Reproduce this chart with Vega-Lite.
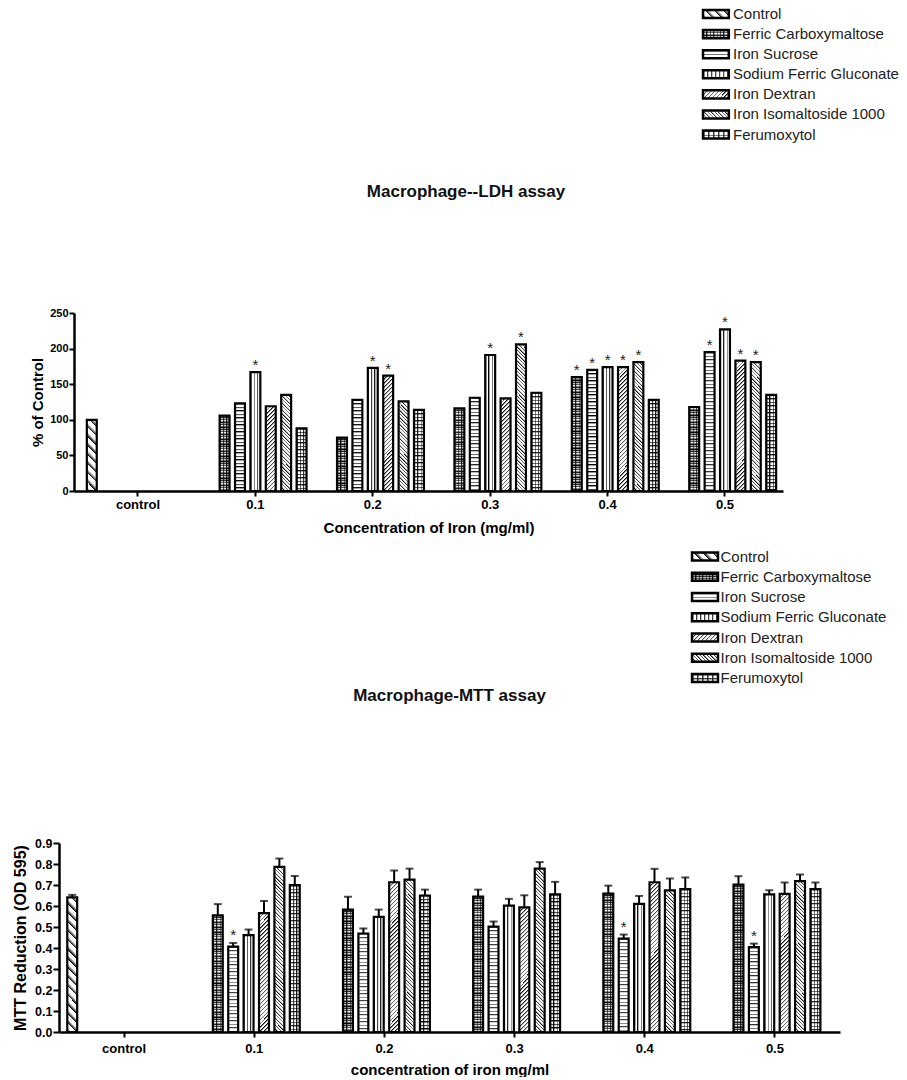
{
"$schema": "https://vega.github.io/schema/vega-lite/v6.json",
"padding": {"left": 12, "top": 4, "right": 0, "bottom": 0},
"background": "#ffffff",
"config": {"view": {"stroke": null}, "font": "Liberation Sans"},
"params": [{"name": "S", "value": [
{"offset":0,"color":"#000"},{"offset":0.01,"color":"transparent"},{"offset":0.02,"color":"transparent"},
{"offset":0.02,"color":"#000"},{"offset":0.03,"color":"transparent"},{"offset":0.04,"color":"transparent"},
{"offset":0.04,"color":"#000"},{"offset":0.05,"color":"transparent"},{"offset":0.06,"color":"transparent"},
{"offset":0.06,"color":"#000"},{"offset":0.07,"color":"transparent"},{"offset":0.08,"color":"transparent"},
{"offset":0.08,"color":"#000"},{"offset":0.09,"color":"transparent"},{"offset":0.1,"color":"transparent"},
{"offset":0.1,"color":"#000"},{"offset":0.11,"color":"transparent"},{"offset":0.12,"color":"transparent"},
{"offset":0.12,"color":"#000"},{"offset":0.13,"color":"transparent"},{"offset":0.14,"color":"transparent"},
{"offset":0.14,"color":"#000"},{"offset":0.15,"color":"transparent"},{"offset":0.16,"color":"transparent"},
{"offset":0.16,"color":"#000"},{"offset":0.17,"color":"transparent"},{"offset":0.18,"color":"transparent"},
{"offset":0.18,"color":"#000"},{"offset":0.19,"color":"transparent"},{"offset":0.2,"color":"transparent"},
{"offset":0.2,"color":"#000"},{"offset":0.21,"color":"transparent"},{"offset":0.22,"color":"transparent"},
{"offset":0.22,"color":"#000"},{"offset":0.23,"color":"transparent"},{"offset":0.24,"color":"transparent"},
{"offset":0.24,"color":"#000"},{"offset":0.25,"color":"transparent"},{"offset":0.26,"color":"transparent"},
{"offset":0.26,"color":"#000"},{"offset":0.27,"color":"transparent"},{"offset":0.28,"color":"transparent"},
{"offset":0.28,"color":"#000"},{"offset":0.29,"color":"transparent"},{"offset":0.3,"color":"transparent"},
{"offset":0.3,"color":"#000"},{"offset":0.31,"color":"transparent"},{"offset":0.32,"color":"transparent"},
{"offset":0.32,"color":"#000"},{"offset":0.33,"color":"transparent"},{"offset":0.34,"color":"transparent"},
{"offset":0.34,"color":"#000"},{"offset":0.35,"color":"transparent"},{"offset":0.36,"color":"transparent"},
{"offset":0.36,"color":"#000"},{"offset":0.37,"color":"transparent"},{"offset":0.38,"color":"transparent"},
{"offset":0.38,"color":"#000"},{"offset":0.39,"color":"transparent"},{"offset":0.4,"color":"transparent"},
{"offset":0.4,"color":"#000"},{"offset":0.41,"color":"transparent"},{"offset":0.42,"color":"transparent"},
{"offset":0.42,"color":"#000"},{"offset":0.43,"color":"transparent"},{"offset":0.44,"color":"transparent"},
{"offset":0.44,"color":"#000"},{"offset":0.45,"color":"transparent"},{"offset":0.46,"color":"transparent"},
{"offset":0.46,"color":"#000"},{"offset":0.47,"color":"transparent"},{"offset":0.48,"color":"transparent"},
{"offset":0.48,"color":"#000"},{"offset":0.49,"color":"transparent"},{"offset":0.5,"color":"transparent"},
{"offset":0.5,"color":"#000"},{"offset":0.51,"color":"transparent"},{"offset":0.52,"color":"transparent"},
{"offset":0.52,"color":"#000"},{"offset":0.53,"color":"transparent"},{"offset":0.54,"color":"transparent"},
{"offset":0.54,"color":"#000"},{"offset":0.55,"color":"transparent"},{"offset":0.56,"color":"transparent"},
{"offset":0.56,"color":"#000"},{"offset":0.57,"color":"transparent"},{"offset":0.58,"color":"transparent"},
{"offset":0.58,"color":"#000"},{"offset":0.59,"color":"transparent"},{"offset":0.6,"color":"transparent"},
{"offset":0.6,"color":"#000"},{"offset":0.61,"color":"transparent"},{"offset":0.62,"color":"transparent"},
{"offset":0.62,"color":"#000"},{"offset":0.63,"color":"transparent"},{"offset":0.64,"color":"transparent"},
{"offset":0.64,"color":"#000"},{"offset":0.65,"color":"transparent"},{"offset":0.66,"color":"transparent"},
{"offset":0.66,"color":"#000"},{"offset":0.67,"color":"transparent"},{"offset":0.68,"color":"transparent"},
{"offset":0.68,"color":"#000"},{"offset":0.69,"color":"transparent"},{"offset":0.7,"color":"transparent"},
{"offset":0.7,"color":"#000"},{"offset":0.71,"color":"transparent"},{"offset":0.72,"color":"transparent"},
{"offset":0.72,"color":"#000"},{"offset":0.73,"color":"transparent"},{"offset":0.74,"color":"transparent"},
{"offset":0.74,"color":"#000"},{"offset":0.75,"color":"transparent"},{"offset":0.76,"color":"transparent"},
{"offset":0.76,"color":"#000"},{"offset":0.77,"color":"transparent"},{"offset":0.78,"color":"transparent"},
{"offset":0.78,"color":"#000"},{"offset":0.79,"color":"transparent"},{"offset":0.8,"color":"transparent"},
{"offset":0.8,"color":"#000"},{"offset":0.81,"color":"transparent"},{"offset":0.82,"color":"transparent"},
{"offset":0.82,"color":"#000"},{"offset":0.83,"color":"transparent"},{"offset":0.84,"color":"transparent"},
{"offset":0.84,"color":"#000"},{"offset":0.85,"color":"transparent"},{"offset":0.86,"color":"transparent"},
{"offset":0.86,"color":"#000"},{"offset":0.87,"color":"transparent"},{"offset":0.88,"color":"transparent"},
{"offset":0.88,"color":"#000"},{"offset":0.89,"color":"transparent"},{"offset":0.9,"color":"transparent"},
{"offset":0.9,"color":"#000"},{"offset":0.91,"color":"transparent"},{"offset":0.92,"color":"transparent"},
{"offset":0.92,"color":"#000"},{"offset":0.93,"color":"transparent"},{"offset":0.94,"color":"transparent"},
{"offset":0.94,"color":"#000"},{"offset":0.95,"color":"transparent"},{"offset":0.96,"color":"transparent"},
{"offset":0.96,"color":"#000"},{"offset":0.97,"color":"transparent"},{"offset":0.98,"color":"transparent"},
{"offset":0.98,"color":"#000"},{"offset":0.99,"color":"transparent"},{"offset":1,"color":"transparent"}
]}],
"datasets": {
"leg": [{"s":"Control"},{"s":"Ferric Carboxymaltose"},{"s":"Iron Sucrose"},{"s":"Sodium Ferric Gluconate"},{"s":"Iron Dextran"},{"s":"Iron Isomaltoside 1000"},{"s":"Ferumoxytol"}],
"ldh": [
{"c":"control","s":"Control","v":100},
{"c":"0.1","s":"Ferric Carboxymaltose","v":106},
{"c":"0.1","s":"Iron Sucrose","v":123},
{"c":"0.1","s":"Sodium Ferric Gluconate","v":167,"star":"*"},
{"c":"0.1","s":"Iron Dextran","v":119},
{"c":"0.1","s":"Iron Isomaltoside 1000","v":135},
{"c":"0.1","s":"Ferumoxytol","v":88},
{"c":"0.2","s":"Ferric Carboxymaltose","v":75},
{"c":"0.2","s":"Iron Sucrose","v":128},
{"c":"0.2","s":"Sodium Ferric Gluconate","v":173,"star":"*"},
{"c":"0.2","s":"Iron Dextran","v":162,"star":"*"},
{"c":"0.2","s":"Iron Isomaltoside 1000","v":126},
{"c":"0.2","s":"Ferumoxytol","v":114},
{"c":"0.3","s":"Ferric Carboxymaltose","v":116},
{"c":"0.3","s":"Iron Sucrose","v":131},
{"c":"0.3","s":"Sodium Ferric Gluconate","v":191,"star":"*"},
{"c":"0.3","s":"Iron Dextran","v":130},
{"c":"0.3","s":"Iron Isomaltoside 1000","v":206,"star":"*"},
{"c":"0.3","s":"Ferumoxytol","v":138},
{"c":"0.4","s":"Ferric Carboxymaltose","v":160,"star":"*"},
{"c":"0.4","s":"Iron Sucrose","v":170,"star":"*"},
{"c":"0.4","s":"Sodium Ferric Gluconate","v":174,"star":"*"},
{"c":"0.4","s":"Iron Dextran","v":174,"star":"*"},
{"c":"0.4","s":"Iron Isomaltoside 1000","v":181,"star":"*"},
{"c":"0.4","s":"Ferumoxytol","v":128},
{"c":"0.5","s":"Ferric Carboxymaltose","v":118},
{"c":"0.5","s":"Iron Sucrose","v":195,"star":"*"},
{"c":"0.5","s":"Sodium Ferric Gluconate","v":227,"star":"*"},
{"c":"0.5","s":"Iron Dextran","v":183,"star":"*"},
{"c":"0.5","s":"Iron Isomaltoside 1000","v":181,"star":"*"},
{"c":"0.5","s":"Ferumoxytol","v":135}
],
"mtt": [
{"c":"control","s":"Control","v":0.641,"hi":0.653},
{"c":"0.1","s":"Ferric Carboxymaltose","v":0.555,"hi":0.609},
{"c":"0.1","s":"Iron Sucrose","v":0.407,"hi":0.424,"star":"*"},
{"c":"0.1","s":"Sodium Ferric Gluconate","v":0.461,"hi":0.488},
{"c":"0.1","s":"Iron Dextran","v":0.566,"hi":0.624},
{"c":"0.1","s":"Iron Isomaltoside 1000","v":0.786,"hi":0.826},
{"c":"0.1","s":"Ferumoxytol","v":0.699,"hi":0.743},
{"c":"0.2","s":"Ferric Carboxymaltose","v":0.583,"hi":0.644},
{"c":"0.2","s":"Iron Sucrose","v":0.469,"hi":0.493},
{"c":"0.2","s":"Sodium Ferric Gluconate","v":0.548,"hi":0.583},
{"c":"0.2","s":"Iron Dextran","v":0.713,"hi":0.769},
{"c":"0.2","s":"Iron Isomaltoside 1000","v":0.726,"hi":0.778},
{"c":"0.2","s":"Ferumoxytol","v":0.65,"hi":0.678},
{"c":"0.3","s":"Ferric Carboxymaltose","v":0.645,"hi":0.678},
{"c":"0.3","s":"Iron Sucrose","v":0.502,"hi":0.526},
{"c":"0.3","s":"Sodium Ferric Gluconate","v":0.602,"hi":0.634},
{"c":"0.3","s":"Iron Dextran","v":0.593,"hi":0.651},
{"c":"0.3","s":"Iron Isomaltoside 1000","v":0.778,"hi":0.809},
{"c":"0.3","s":"Ferumoxytol","v":0.655,"hi":0.715},
{"c":"0.4","s":"Ferric Carboxymaltose","v":0.659,"hi":0.697},
{"c":"0.4","s":"Iron Sucrose","v":0.445,"hi":0.464,"star":"*"},
{"c":"0.4","s":"Sodium Ferric Gluconate","v":0.61,"hi":0.648},
{"c":"0.4","s":"Iron Dextran","v":0.713,"hi":0.777},
{"c":"0.4","s":"Iron Isomaltoside 1000","v":0.674,"hi":0.731},
{"c":"0.4","s":"Ferumoxytol","v":0.68,"hi":0.736},
{"c":"0.5","s":"Ferric Carboxymaltose","v":0.702,"hi":0.742},
{"c":"0.5","s":"Iron Sucrose","v":0.404,"hi":0.421,"star":"*"},
{"c":"0.5","s":"Sodium Ferric Gluconate","v":0.655,"hi":0.675},
{"c":"0.5","s":"Iron Dextran","v":0.658,"hi":0.712},
{"c":"0.5","s":"Iron Isomaltoside 1000","v":0.718,"hi":0.75},
{"c":"0.5","s":"Ferumoxytol","v":0.68,"hi":0.712}
]
},
"spacing": 0,
"vconcat": [
{
"width": 840, "height": 178.8,
"data": {"name": "leg"},
"encoding": {"y": {"field": "s", "type": "nominal", "sort": null, "axis": null, "scale": {"domain": ["Control","Ferric Carboxymaltose","Iron Sucrose","Sodium Ferric Gluconate","Iron Dextran","Iron Isomaltoside 1000","Ferumoxytol"], "range": [0, 140.56], "paddingInner": 0.6, "paddingOuter": 0.3}}},
"layer": [
{"encoding": {"x": {"datum": 0.7667, "type": "quantitative", "scale": {"domain": [0, 1]}, "axis": null}, "x2": {"datum": 0.7974}},
"layer": [
{"mark": {"type": "rect", "fill": "#fff"}},
{"transform": [{"filter": "datum.s=='Control'"}], "mark": {"type": "rect", "fill": {"expr": "{gradient:'linear',x1:0,y1:1,x2:16.15,y2:-3.969,stops:S}"}}},
{"transform": [{"filter": "datum.s=='Ferric Carboxymaltose'"}], "mark": {"type": "rect", "fill": {"expr": "{gradient:'linear',x1:0,x2:0.0001,y1:0,y2:21.25,stops:S}"}}},
{"transform": [{"filter": "datum.s=='Ferric Carboxymaltose'"}], "mark": {"type": "rect", "fill": {"expr": "{gradient:'linear',x1:0,x2:0.0001,y1:-0.2125,y2:21.04,stops:S}"}}},
{"transform": [{"filter": "datum.s=='Ferric Carboxymaltose'"}], "mark": {"type": "rect", "fill": {"expr": "{gradient:'linear',x1:0,x2:6.538,y1:0,y2:0,stops:S}"}}},
{"transform": [{"filter": "datum.s=='Iron Sucrose'"}], "mark": {"type": "rect", "fill": {"expr": "{gradient:'linear',x1:0,x2:0.0001,y1:0,y2:21.875,stops:S}"}}},
{"transform": [{"filter": "datum.s=='Sodium Ferric Gluconate'"}], "mark": {"type": "rect", "fill": {"expr": "{gradient:'linear',x1:0,x2:7.69,y1:0,y2:0,stops:S}"}}},
{"transform": [{"filter": "datum.s=='Iron Dextran'"}], "mark": {"type": "rect", "fill": {"expr": "{gradient:'linear',x1:0,y1:0,x2:6.957,y2:2.141,stops:S}"}}},
{"transform": [{"filter": "datum.s=='Iron Isomaltoside 1000'"}], "mark": {"type": "rect", "fill": {"expr": "{gradient:'linear',x1:0,y1:1,x2:6.211,y2:-0.911,stops:S}"}}},
{"transform": [{"filter": "datum.s=='Ferumoxytol'"}], "mark": {"type": "rect", "fill": {"expr": "{gradient:'linear',x1:0,x2:0.0001,y1:0,y2:25,stops:S}"}}},
{"transform": [{"filter": "datum.s=='Ferumoxytol'"}], "mark": {"type": "rect", "fill": {"expr": "{gradient:'linear',x1:0,x2:9.615,y1:0,y2:0,stops:S}"}}},
{"mark": {"type": "rect", "filled": false, "stroke": "#000", "strokeWidth": 2.5}}
]},
{"mark": {"type": "text", "align": "left", "baseline": "middle", "fontSize": 15, "color": "#222"},
"encoding": {"x": {"datum": 0.8024, "type": "quantitative"}, "text": {"field": "s"}}}
]
},
{
"width": 724, "height": 178,
"data": {"name": "ldh"},
"title": {"text": "Macrophage--LDH assay", "fontSize": 17, "fontWeight": "bold", "color": "#111", "offset": 106, "dx": 45, "frame": "group", "anchor": "middle"},
"encoding": {
"x": {"field": "c", "type": "nominal", "sort": null, "scale": {"domain": ["control","0.1","0.2","0.3","0.4","0.5"], "range": [15, 724], "paddingInner": 0.082, "paddingOuter": 0.0605, "align": 0.71},
"axis": {"title": "Concentration of Iron (mg/ml)", "labelAngle": 0, "labelFontSize": 13, "labelFontWeight": "bold", "labelColor": "#000", "labelPadding": 2.5, "tickSize": 5, "tickWidth": 2, "tickColor": "#000", "domainWidth": 2.5, "domainColor": "#000", "titleFontSize": 15, "titleFontWeight": "bold", "titleColor": "#000", "titlePadding": 9, "bandPosition": 0.5}},
"xOffset": {"field": "s", "type": "nominal", "sort": null, "scale": {"domain": ["Control","Ferric Carboxymaltose","Iron Sucrose","Sodium Ferric Gluconate","Iron Dextran","Iron Isomaltoside 1000","Ferumoxytol"], "paddingInner": 0.356, "paddingOuter": 0.178}},
"y": {"field": "v", "type": "quantitative", "stack": null, "title": "% of Control", "scale": {"domain": [0, 250], "nice": false},
"axis": {"values": [0,50,100,150,200,250], "offset": -15, "grid": false, "labelFontSize": 11, "labelFontWeight": "bold", "labelColor": "#000", "labelPadding": 1, "tickSize": 5, "tickWidth": 2, "tickColor": "#000", "domainWidth": 2.5, "domainColor": "#000", "titleFontSize": 15, "titleFontWeight": "bold", "titleColor": "#000", "titlePadding": 4}}
},
"layer": [
{"mark": {"type": "bar", "fill": "#fff"}},
{"transform": [{"filter": "datum.s=='Control'"}], "mark": {"type": "bar", "fill": {"expr": "{gradient:'linear',x1:0,y1:1,x2:4596/(100+pow(datum.v*0.712,2)),y2:1-459.6*datum.v*0.712/(100+pow(datum.v*0.712,2)),stops:S}"}}},
{"transform": [{"filter": "datum.s=='Ferric Carboxymaltose'"}], "mark": {"type": "bar", "fill": {"expr": "{gradient:'linear',x1:0,x2:0.0001,y1:0,y2:170/(datum.v*0.712),stops:S}"}}},
{"transform": [{"filter": "datum.s=='Ferric Carboxymaltose'"}], "mark": {"type": "bar", "fill": {"expr": "{gradient:'linear',x1:0,x2:0.0001,y1:-1.7/(datum.v*0.712),y2:168.3/(datum.v*0.712),stops:S}"}}},
{"transform": [{"filter": "datum.s=='Ferric Carboxymaltose'"}], "mark": {"type": "bar", "fill": {"expr": "{gradient:'linear',x1:0,x2:17,y1:0,y2:0,stops:S}"}}},
{"transform": [{"filter": "datum.s=='Iron Sucrose'"}], "mark": {"type": "bar", "fill": {"expr": "{gradient:'linear',x1:0,x2:0.0001,y1:0,y2:175/(datum.v*0.712),stops:S}"}}},
{"transform": [{"filter": "datum.s=='Sodium Ferric Gluconate'"}], "mark": {"type": "bar", "fill": {"expr": "{gradient:'linear',x1:0,x2:16.5,y1:0,y2:0,stops:S}"}}},
{"transform": [{"filter": "datum.s=='Iron Dextran'"}], "mark": {"type": "bar", "fill": {"expr": "{gradient:'linear',x1:0,y1:0,x2:1980/(100+pow(datum.v*0.712,2)),y2:198*datum.v*0.712/(100+pow(datum.v*0.712,2)),stops:S}"}}},
{"transform": [{"filter": "datum.s=='Iron Isomaltoside 1000'"}], "mark": {"type": "bar", "fill": {"expr": "{gradient:'linear',x1:0,y1:1,x2:1768/(100+pow(datum.v*0.712,2)),y2:1-176.8*datum.v*0.712/(100+pow(datum.v*0.712,2)),stops:S}"}}},
{"transform": [{"filter": "datum.s=='Ferumoxytol'"}], "mark": {"type": "bar", "fill": {"expr": "{gradient:'linear',x1:0,x2:0.0001,y1:0,y2:175/(datum.v*0.712),stops:S}"}}},
{"transform": [{"filter": "datum.s=='Ferumoxytol'"}], "mark": {"type": "bar", "fill": {"expr": "{gradient:'linear',x1:0,x2:16.5,y1:0,y2:0,stops:S}"}}},
{"mark": {"type": "bar", "filled": false, "stroke": "#000", "strokeWidth": 2.2}},
{"transform": [{"filter": "datum.star=='*'"}], "mark": {"type": "text", "text": "*", "fontSize": 15, "baseline": "alphabetic", "dy": -2, "color": "#222"}}
]
},
{
"width": 840, "height": 149.3,
"data": {"name": "leg"},
"encoding": {"y": {"field": "s", "type": "nominal", "sort": null, "axis": null, "scale": {"domain": ["Control","Ferric Carboxymaltose","Iron Sucrose","Sodium Ferric Gluconate","Iron Dextran","Iron Isomaltoside 1000","Ferumoxytol"], "range": [10.4, 152.15], "paddingInner": 0.6, "paddingOuter": 0.3}}},
"layer": [
{"encoding": {"x": {"datum": 0.7536, "type": "quantitative", "scale": {"domain": [0, 1]}, "axis": null}, "x2": {"datum": 0.7845}},
"layer": [
{"mark": {"type": "rect", "fill": "#fff"}},
{"transform": [{"filter": "datum.s=='Control'"}], "mark": {"type": "rect", "fill": {"expr": "{gradient:'linear',x1:0,y1:1,x2:16.15,y2:-3.969,stops:S}"}}},
{"transform": [{"filter": "datum.s=='Ferric Carboxymaltose'"}], "mark": {"type": "rect", "fill": {"expr": "{gradient:'linear',x1:0,x2:0.0001,y1:0,y2:21.25,stops:S}"}}},
{"transform": [{"filter": "datum.s=='Ferric Carboxymaltose'"}], "mark": {"type": "rect", "fill": {"expr": "{gradient:'linear',x1:0,x2:0.0001,y1:-0.2125,y2:21.04,stops:S}"}}},
{"transform": [{"filter": "datum.s=='Ferric Carboxymaltose'"}], "mark": {"type": "rect", "fill": {"expr": "{gradient:'linear',x1:0,x2:6.538,y1:0,y2:0,stops:S}"}}},
{"transform": [{"filter": "datum.s=='Iron Sucrose'"}], "mark": {"type": "rect", "fill": {"expr": "{gradient:'linear',x1:0,x2:0.0001,y1:0,y2:21.875,stops:S}"}}},
{"transform": [{"filter": "datum.s=='Sodium Ferric Gluconate'"}], "mark": {"type": "rect", "fill": {"expr": "{gradient:'linear',x1:0,x2:7.69,y1:0,y2:0,stops:S}"}}},
{"transform": [{"filter": "datum.s=='Iron Dextran'"}], "mark": {"type": "rect", "fill": {"expr": "{gradient:'linear',x1:0,y1:0,x2:6.957,y2:2.141,stops:S}"}}},
{"transform": [{"filter": "datum.s=='Iron Isomaltoside 1000'"}], "mark": {"type": "rect", "fill": {"expr": "{gradient:'linear',x1:0,y1:1,x2:6.211,y2:-0.911,stops:S}"}}},
{"transform": [{"filter": "datum.s=='Ferumoxytol'"}], "mark": {"type": "rect", "fill": {"expr": "{gradient:'linear',x1:0,x2:0.0001,y1:0,y2:25,stops:S}"}}},
{"transform": [{"filter": "datum.s=='Ferumoxytol'"}], "mark": {"type": "rect", "fill": {"expr": "{gradient:'linear',x1:0,x2:9.615,y1:0,y2:0,stops:S}"}}},
{"mark": {"type": "rect", "filled": false, "stroke": "#000", "strokeWidth": 2.5}}
]},
{"mark": {"type": "text", "align": "left", "baseline": "middle", "fontSize": 15, "color": "#222"},
"encoding": {"x": {"datum": 0.7875, "type": "quantitative"}, "text": {"field": "s"}}}
]
},
{
"width": 781, "height": 189,
"data": {"name": "mtt"},
"title": {"text": "Macrophage-MTT assay", "fontSize": 17, "fontWeight": "bold", "color": "#111", "offset": 132, "frame": "group", "anchor": "middle"},
"encoding": {
"x": {"field": "c", "type": "nominal", "sort": null, "scale": {"domain": ["control","0.1","0.2","0.3","0.4","0.5"], "paddingInner": 0.085, "paddingOuter": 0.0425},
"axis": {"title": "concentration of iron mg/ml", "labelAngle": 0, "labelFontSize": 13, "labelFontWeight": "bold", "labelColor": "#000", "labelPadding": 5, "tickSize": 5, "tickWidth": 2, "tickColor": "#000", "domainWidth": 2.5, "domainColor": "#000", "titleFontSize": 15, "titleFontWeight": "bold", "titleColor": "#000", "titlePadding": 7, "bandPosition": 0.5}},
"xOffset": {"field": "s", "type": "nominal", "sort": null, "scale": {"domain": ["Control","Ferric Carboxymaltose","Iron Sucrose","Sodium Ferric Gluconate","Iron Dextran","Iron Isomaltoside 1000","Ferumoxytol"], "paddingInner": 0.41, "paddingOuter": 0.205}},
"y": {"field": "v", "type": "quantitative", "stack": null, "title": "MTT Reduction (OD 595)", "scale": {"domain": [0, 0.9], "nice": false},
"axis": {"values": [0,0.1,0.2,0.3,0.4,0.5,0.6,0.7,0.8,0.9], "format": ".1f", "grid": false, "labelFontSize": 12.5, "labelFontWeight": "bold", "labelColor": "#000", "labelPadding": 1, "tickSize": 6, "tickWidth": 2, "tickColor": "#000", "domainWidth": 2.5, "domainColor": "#000", "titleFontSize": 16, "titleFontWeight": "bold", "titleColor": "#000", "titlePadding": 6}}
},
"layer": [
{"mark": {"type": "rule", "stroke": "#000", "strokeWidth": 2}, "encoding": {"y": {"field": "v", "type": "quantitative", "title": "MTT Reduction (OD 595)"}, "y2": {"field": "hi"}}},
{"mark": {"type": "tick", "color": "#000", "size": 8, "thickness": 2, "orient": "horizontal"}, "encoding": {"y": {"field": "hi", "type": "quantitative", "title": "MTT Reduction (OD 595)"}}},
{"mark": {"type": "bar", "fill": "#fff"}},
{"transform": [{"filter": "datum.s=='Control'"}], "mark": {"type": "bar", "fill": {"expr": "{gradient:'linear',x1:0,y1:1,x2:4596/(100+pow(datum.v*210,2)),y2:1-459.6*datum.v*210/(100+pow(datum.v*210,2)),stops:S}"}}},
{"transform": [{"filter": "datum.s=='Ferric Carboxymaltose'"}], "mark": {"type": "bar", "fill": {"expr": "{gradient:'linear',x1:0,x2:0.0001,y1:0,y2:170/(datum.v*210),stops:S}"}}},
{"transform": [{"filter": "datum.s=='Ferric Carboxymaltose'"}], "mark": {"type": "bar", "fill": {"expr": "{gradient:'linear',x1:0,x2:0.0001,y1:-1.7/(datum.v*210),y2:168.3/(datum.v*210),stops:S}"}}},
{"transform": [{"filter": "datum.s=='Ferric Carboxymaltose'"}], "mark": {"type": "bar", "fill": {"expr": "{gradient:'linear',x1:0,x2:17,y1:0,y2:0,stops:S}"}}},
{"transform": [{"filter": "datum.s=='Iron Sucrose'"}], "mark": {"type": "bar", "fill": {"expr": "{gradient:'linear',x1:0,x2:0.0001,y1:0,y2:175/(datum.v*210),stops:S}"}}},
{"transform": [{"filter": "datum.s=='Sodium Ferric Gluconate'"}], "mark": {"type": "bar", "fill": {"expr": "{gradient:'linear',x1:0,x2:16.5,y1:0,y2:0,stops:S}"}}},
{"transform": [{"filter": "datum.s=='Iron Dextran'"}], "mark": {"type": "bar", "fill": {"expr": "{gradient:'linear',x1:0,y1:0,x2:1980/(100+pow(datum.v*210,2)),y2:198*datum.v*210/(100+pow(datum.v*210,2)),stops:S}"}}},
{"transform": [{"filter": "datum.s=='Iron Isomaltoside 1000'"}], "mark": {"type": "bar", "fill": {"expr": "{gradient:'linear',x1:0,y1:1,x2:1768/(100+pow(datum.v*210,2)),y2:1-176.8*datum.v*210/(100+pow(datum.v*210,2)),stops:S}"}}},
{"transform": [{"filter": "datum.s=='Ferumoxytol'"}], "mark": {"type": "bar", "fill": {"expr": "{gradient:'linear',x1:0,x2:0.0001,y1:0,y2:175/(datum.v*210),stops:S}"}}},
{"transform": [{"filter": "datum.s=='Ferumoxytol'"}], "mark": {"type": "bar", "fill": {"expr": "{gradient:'linear',x1:0,x2:16.5,y1:0,y2:0,stops:S}"}}},
{"mark": {"type": "bar", "filled": false, "stroke": "#000", "strokeWidth": 2.2}},
{"transform": [{"filter": "datum.star=='*'"}], "mark": {"type": "text", "text": "*", "fontSize": 15, "baseline": "alphabetic", "dy": -3, "color": "#222"}, "encoding": {"y": {"field": "hi", "type": "quantitative", "title": "MTT Reduction (OD 595)"}}}
]
}
]
}
